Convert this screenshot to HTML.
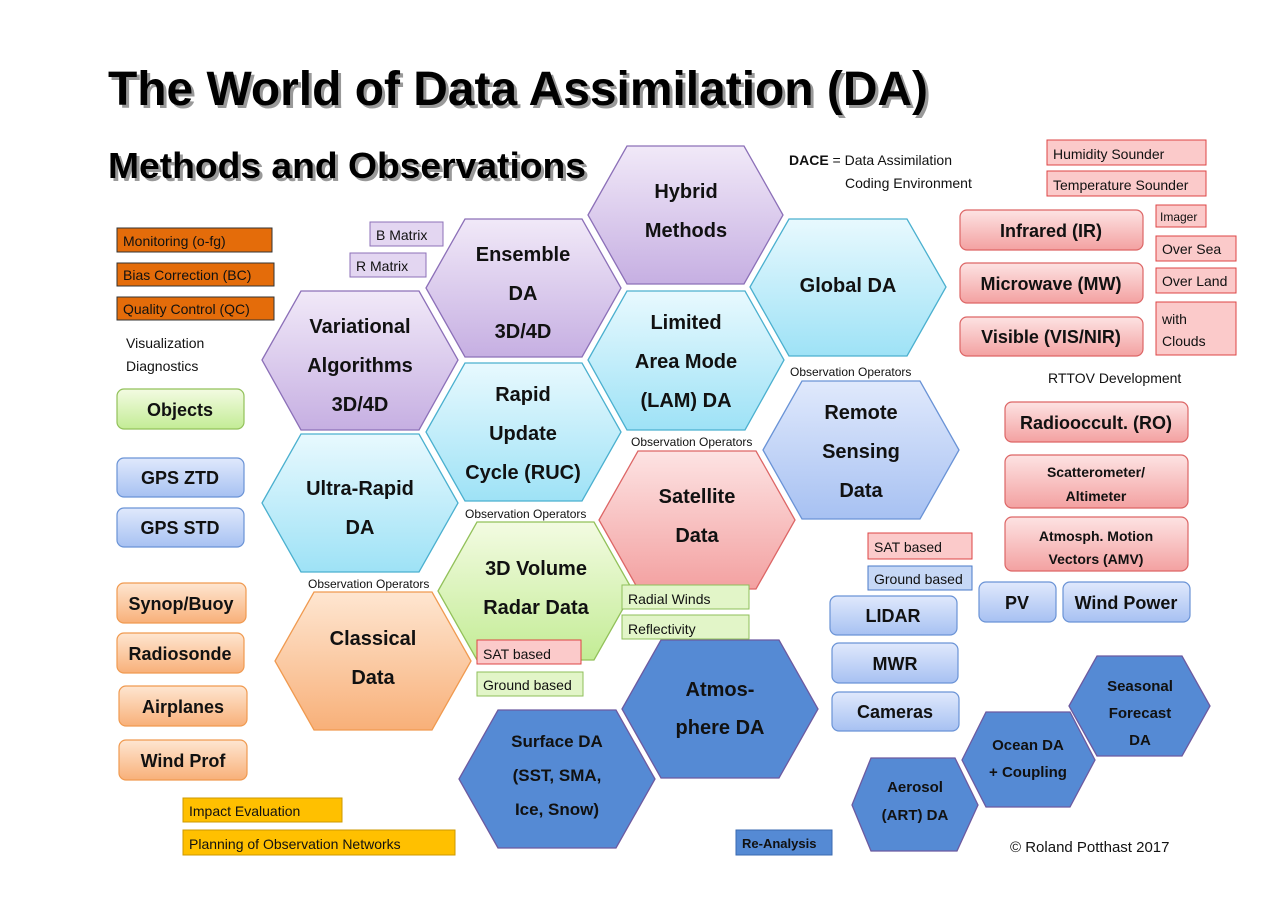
<!DOCTYPE html>
<html><head><meta charset="utf-8"><style>
html,body{margin:0;padding:0;background:#fff;}
svg{display:block;font-family:"Liberation Sans",sans-serif;}
.h{font-weight:bold;font-size:20px;fill:#111;text-anchor:middle;}
.hs{font-weight:bold;font-size:15px;fill:#111;text-anchor:middle;}
.b{font-weight:bold;font-size:18px;fill:#111;text-anchor:middle;}
.bs{font-weight:bold;font-size:14px;fill:#111;text-anchor:middle;}
.s{font-size:14px;fill:#111;}
.o{font-size:12px;fill:#111;}
</style></head><body>
<svg width="1280" height="902" viewBox="0 0 1280 902" xmlns="http://www.w3.org/2000/svg">
<defs>
<linearGradient id="gp" x1="0" y1="0" x2="0" y2="1"><stop offset="0" stop-color="#f1e9f8"/><stop offset="1" stop-color="#c6afe2"/></linearGradient>
<linearGradient id="gc" x1="0" y1="0" x2="0" y2="1"><stop offset="0" stop-color="#e8f9fe"/><stop offset="1" stop-color="#9ee2f6"/></linearGradient>
<linearGradient id="gl" x1="0" y1="0" x2="0" y2="1"><stop offset="0" stop-color="#e0e9fc"/><stop offset="1" stop-color="#a7c1f2"/></linearGradient>
<linearGradient id="gr" x1="0" y1="0" x2="0" y2="1"><stop offset="0" stop-color="#fde3e3"/><stop offset="1" stop-color="#f3a1a1"/></linearGradient>
<linearGradient id="gg" x1="0" y1="0" x2="0" y2="1"><stop offset="0" stop-color="#f3fbe2"/><stop offset="1" stop-color="#c3ec95"/></linearGradient>
<linearGradient id="go" x1="0" y1="0" x2="0" y2="1"><stop offset="0" stop-color="#fee6d1"/><stop offset="1" stop-color="#f8b079"/></linearGradient>
</defs>

<!-- Title -->
<text x="111" y="108" font-size="48" font-weight="bold" fill="#999" textLength="820" lengthAdjust="spacingAndGlyphs">The World of Data Assimilation (DA)</text>
<text x="108" y="105" font-size="48" font-weight="bold" fill="#000" textLength="820" lengthAdjust="spacingAndGlyphs">The World of Data Assimilation (DA)</text>
<text x="111" y="181" font-size="36" font-weight="bold" fill="#999" textLength="478" lengthAdjust="spacingAndGlyphs">Methods and Observations</text>
<text x="108" y="178" font-size="36" font-weight="bold" fill="#000" textLength="478" lengthAdjust="spacingAndGlyphs">Methods and Observations</text>

<!-- Hexagons -->
<g stroke-width="1.3">
<polygon points="588,215 627,146 744,146 783,215 744,284 627,284" fill="url(#gp)" stroke="#8c70b8"/>
<polygon points="426,288 465,219 582,219 621,288 582,357 465,357" fill="url(#gp)" stroke="#8c70b8"/>
<polygon points="262,360 301,291 419,291 458,360 419,430 301,430" fill="url(#gp)" stroke="#8c70b8"/>
<polygon points="750,287 789,219 907,219 946,287 907,356 789,356" fill="url(#gc)" stroke="#4bb0cf"/>
<polygon points="588,360 627,291 745,291 784,360 745,430 627,430" fill="url(#gc)" stroke="#4bb0cf"/>
<polygon points="426,432 465,363 582,363 621,432 582,501 465,501" fill="url(#gc)" stroke="#4bb0cf"/>
<polygon points="262,503 301,434 419,434 458,503 419,572 301,572" fill="url(#gc)" stroke="#4bb0cf"/>
<polygon points="763,450 802,381 920,381 959,450 920,519 802,519" fill="url(#gl)" stroke="#6a93d6"/>
<polygon points="599,520 638,451 756,451 795,520 756,589 638,589" fill="url(#gr)" stroke="#d66"/>
<polygon points="438,591 477,522 594,522 633,591 594,660 477,660" fill="url(#gg)" stroke="#92c15a"/>
<polygon points="275,661 314,592 432,592 471,661 432,730 314,730" fill="url(#go)" stroke="#f09a50"/>
<polygon points="622,709 661,640 779,640 818,709 779,778 661,778" fill="#558ad4" stroke="#6c5aa0"/>
<polygon points="459,779 498,710 616,710 655,779 616,848 498,848" fill="#558ad4" stroke="#6c5aa0"/>
<polygon points="852,805 871,758 955,758 978,805 957,851 871,851" fill="#558ad4" stroke="#6c5aa0"/>
<polygon points="962,760 986,712 1070,712 1095,760 1070,807 986,807" fill="#558ad4" stroke="#6c5aa0"/>
<polygon points="1069,706 1097,656 1182,656 1210,706 1182,756 1097,756" fill="#558ad4" stroke="#6c5aa0"/>
</g>

<g class="h">
<text x="686" y="198">Hybrid</text><text x="686" y="237">Methods</text>
<text x="523" y="261">Ensemble</text><text x="523" y="300">DA</text><text x="523" y="338">3D/4D</text>
<text x="360" y="333">Variational</text><text x="360" y="372">Algorithms</text><text x="360" y="411">3D/4D</text>
<text x="848" y="292">Global DA</text>
<text x="686" y="329">Limited</text><text x="686" y="368">Area Mode</text><text x="686" y="407">(LAM) DA</text>
<text x="523" y="401">Rapid</text><text x="523" y="440">Update</text><text x="523" y="479">Cycle (RUC)</text>
<text x="360" y="495">Ultra-Rapid</text><text x="360" y="534">DA</text>
<text x="861" y="419">Remote</text><text x="861" y="458">Sensing</text><text x="861" y="497">Data</text>
<text x="697" y="503">Satellite</text><text x="697" y="542">Data</text>
<text x="536" y="575">3D Volume</text><text x="536" y="614">Radar Data</text>
<text x="373" y="645">Classical</text><text x="373" y="684">Data</text>
<text x="720" y="696">Atmos-</text><text x="720" y="734">phere DA</text>
</g>
<g class="hs" style="font-size:17px">
<text x="557" y="747">Surface DA</text><text x="557" y="781">(SST, SMA,</text><text x="557" y="815">Ice, Snow)</text>
</g>
<g class="hs">
<text x="915" y="792">Aerosol</text><text x="915" y="820">(ART) DA</text>
<text x="1028" y="750">Ocean DA</text><text x="1028" y="777">+ Coupling</text>
<text x="1140" y="691">Seasonal</text><text x="1140" y="718">Forecast</text><text x="1140" y="745">DA</text>
</g>

<!-- Observation operators -->
<g class="o">
<text x="308" y="588">Observation Operators</text>
<text x="465" y="518">Observation Operators</text>
<text x="631" y="446">Observation Operators</text>
<text x="790" y="376">Observation Operators</text>
</g>

<!-- small rect labels -->
<g stroke-width="1">
<rect x="370" y="222" width="73" height="24" fill="#e3d6f1" stroke="#8c70b8"/>
<rect x="350" y="253" width="76" height="24" fill="#e3d6f1" stroke="#8c70b8"/>
<rect x="117" y="228" width="155" height="24" fill="#e46c0a" stroke="#333"/>
<rect x="117" y="263" width="157" height="23" fill="#e46c0a" stroke="#333"/>
<rect x="117" y="297" width="157" height="23" fill="#e46c0a" stroke="#333"/>
<rect x="183" y="798" width="159" height="24" fill="#ffc000" stroke="#c90"/>
<rect x="183" y="830" width="272" height="25" fill="#ffc000" stroke="#c90"/>
<rect x="736" y="830" width="96" height="25" fill="#558ad4" stroke="#3a6ab0"/>
<rect x="1047" y="140" width="159" height="25" fill="#fbcaca" stroke="#d44"/>
<rect x="1047" y="171" width="159" height="25" fill="#fbcaca" stroke="#d44"/>
<rect x="1156" y="205" width="50" height="22" fill="#fbcaca" stroke="#d44"/>
<rect x="1156" y="236" width="80" height="25" fill="#fbcaca" stroke="#d44"/>
<rect x="1156" y="268" width="80" height="25" fill="#fbcaca" stroke="#d44"/>
<rect x="1156" y="302" width="80" height="53" fill="#fbcaca" stroke="#d44"/>
<rect x="868" y="533" width="104" height="26" fill="#fbcaca" stroke="#d44"/>
<rect x="868" y="566" width="104" height="24" fill="#c6d8f6" stroke="#4a7ac8"/>
<rect x="622" y="585" width="127" height="24" fill="#e2f5c8" stroke="#8fbf5a"/>
<rect x="622" y="615" width="127" height="24" fill="#e2f5c8" stroke="#8fbf5a"/>
<rect x="477" y="640" width="104" height="24" fill="#fbcaca" stroke="#d44"/>
<rect x="477" y="672" width="106" height="24" fill="#e2f5c8" stroke="#8fbf5a"/>
</g>
<g class="s">
<text x="376" y="240">B Matrix</text>
<text x="356" y="271">R Matrix</text>
<text x="123" y="246">Monitoring (o-fg)</text>
<text x="123" y="280">Bias Correction (BC)</text>
<text x="123" y="314">Quality Control (QC)</text>
<text x="189" y="816">Impact Evaluation</text>
<text x="189" y="849">Planning of Observation Networks</text>
<text x="742" y="848" font-weight="bold" font-size="13">Re-Analysis</text>
<text x="1053" y="159">Humidity Sounder</text>
<text x="1053" y="190">Temperature Sounder</text>
<text x="1160" y="221" font-size="12">Imager</text>
<text x="1162" y="254">Over Sea</text>
<text x="1162" y="286">Over Land</text>
<text x="1162" y="324">with</text><text x="1162" y="346">Clouds</text>
<text x="874" y="552">SAT based</text>
<text x="874" y="584">Ground based</text>
<text x="628" y="604">Radial Winds</text>
<text x="628" y="634">Reflectivity</text>
<text x="483" y="659">SAT based</text>
<text x="483" y="690">Ground based</text>
<text x="789" y="165"><tspan font-weight="bold">DACE</tspan> = Data Assimilation</text>
<text x="845" y="188">Coding Environment</text>
<text x="126" y="348">Visualization</text>
<text x="126" y="371">Diagnostics</text>
<text x="1048" y="383">RTTOV Development</text>
<text x="1010" y="852" font-size="15">© Roland Potthast 2017</text>
</g>

<!-- rounded boxes -->
<g stroke-width="1.2">
<rect x="960" y="210" width="183" height="40" rx="7" fill="url(#gr)" stroke="#d66"/>
<rect x="960" y="263" width="183" height="40" rx="7" fill="url(#gr)" stroke="#d66"/>
<rect x="960" y="317" width="183" height="39" rx="7" fill="url(#gr)" stroke="#d66"/>
<rect x="1005" y="402" width="183" height="40" rx="7" fill="url(#gr)" stroke="#d66"/>
<rect x="1005" y="455" width="183" height="53" rx="7" fill="url(#gr)" stroke="#d66"/>
<rect x="1005" y="517" width="183" height="54" rx="7" fill="url(#gr)" stroke="#d66"/>
<rect x="979" y="582" width="77" height="40" rx="7" fill="url(#gl)" stroke="#6a93d6"/>
<rect x="1063" y="582" width="127" height="40" rx="7" fill="url(#gl)" stroke="#6a93d6"/>
<rect x="830" y="596" width="127" height="39" rx="7" fill="url(#gl)" stroke="#6a93d6"/>
<rect x="832" y="643" width="126" height="40" rx="7" fill="url(#gl)" stroke="#6a93d6"/>
<rect x="832" y="692" width="127" height="39" rx="7" fill="url(#gl)" stroke="#6a93d6"/>
<rect x="117" y="458" width="127" height="39" rx="7" fill="url(#gl)" stroke="#6a93d6"/>
<rect x="117" y="508" width="127" height="39" rx="7" fill="url(#gl)" stroke="#6a93d6"/>
<rect x="117" y="389" width="127" height="40" rx="7" fill="url(#gg)" stroke="#92c15a"/>
<rect x="117" y="583" width="129" height="40" rx="7" fill="url(#go)" stroke="#f09a50"/>
<rect x="117" y="633" width="127" height="40" rx="7" fill="url(#go)" stroke="#f09a50"/>
<rect x="119" y="686" width="128" height="40" rx="7" fill="url(#go)" stroke="#f09a50"/>
<rect x="119" y="740" width="128" height="40" rx="7" fill="url(#go)" stroke="#f09a50"/>
</g>
<g class="b">
<text x="1051" y="237">Infrared (IR)</text>
<text x="1051" y="290">Microwave (MW)</text>
<text x="1051" y="343">Visible (VIS/NIR)</text>
<text x="1096" y="429">Radiooccult. (RO)</text>
<text x="1017" y="609">PV</text>
<text x="1126" y="609">Wind Power</text>
<text x="893" y="622">LIDAR</text>
<text x="895" y="670">MWR</text>
<text x="895" y="718">Cameras</text>
<text x="180" y="484">GPS ZTD</text>
<text x="180" y="534">GPS STD</text>
<text x="180" y="416">Objects</text>
<text x="181" y="610">Synop/Buoy</text>
<text x="180" y="660">Radiosonde</text>
<text x="183" y="713">Airplanes</text>
<text x="183" y="767">Wind Prof</text>
</g>
<g class="bs">
<text x="1096" y="477">Scatterometer/</text><text x="1096" y="501">Altimeter</text>
<text x="1096" y="541">Atmosph. Motion</text><text x="1096" y="564">Vectors (AMV)</text>
</g>
</svg>
</body></html>
